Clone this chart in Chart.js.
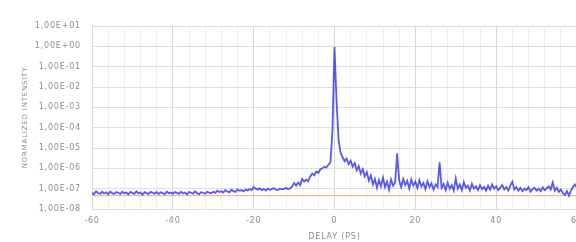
<!DOCTYPE html>
<html>
<head>
<meta charset="utf-8">
<script src="https://cdn.jsdelivr.net/npm/chart.js@4/dist/chart.umd.min.js"></script>
<style>
html,body{margin:0;padding:0;background:#fff;overflow:hidden;}
#wrap{width:610px;height:242px;position:relative;}
</style>
</head>
<body>
<div id="wrap"><canvas id="c"></canvas></div>
<script>
const delays = [
-60,-59.5,-59,-58.5,-58,-57.5,-57,-56.5,-56,-55.5,-55,-54.5,-54,-53.5,-53,-52.5,-52,-51.5,-51,-50.5,
-50,-49.5,-49,-48.5,-48,-47.5,-47,-46.5,-46,-45.5,-45,-44.5,-44,-43.5,-43,-42.5,-42,-41.5,-41,-40.5,
-40,-39.5,-39,-38.5,-38,-37.5,-37,-36.5,-36,-35.5,-35,-34.5,-34,-33.5,-33,-32.5,-32,-31.5,-31,-30.5,
-30,-29.5,-29,-28.5,-28,-27.5,-27,-26.5,-26,-25.5,-25,-24.5,-24,-23.5,-23,-22.5,-22,-21.5,-21,-20.5,
-20,-19.5,-19,-18.5,-18,-17.5,-17,-16.5,-16,-15.5,-15,-14.5,-14,-13.5,-13,-12.5,-12,-11.5,-11,-10.5,
-10,-9.5,-9,-8.5,-8,-7.5,-7,-6.5,-6,-5.5,-5,-4.5,-4,-3.5,-3,-2.5,-2,-1.5,
-1,-0.5,0,0.5,1,1.5,2,
2.5,3,3.5,4,4.5,5,5.5,6,6.5,7,7.5,8,8.5,9,9.5,10,
10.5,11,11.5,12,12.5,13,13.5,14,14.5,15,15.5,16,16.5,17,17.5,18,18.5,19,19.5,20,
20.5,21,21.5,22,22.5,23,23.5,24,24.5,25,25.5,26,26.5,27,27.5,28,28.5,29,29.5,30,
30.5,31,31.5,32,32.5,33,33.5,34,34.5,35,35.5,36,36.5,37,37.5,38,38.5,39,39.5,40,
40.5,41,41.5,42,42.5,43,43.5,44,44.5,45,
45.5,46,46.5,47,47.5,48,48.5,49,49.5,50,50.5,51,51.5,52,52.5,53,53.5,54,54.5,55,
55.5,56,56.5,57,57.5,58,58.5,59,59.5,60
];
const intensity = [
6.5e-8,5.2e-8,7.4e-8,6.1e-8,5.6e-8,7e-8,5.8e-8,6.6e-8,5.3e-8,7.2e-8,
6e-8,5.5e-8,6.8e-8,6.3e-8,5.4e-8,7.1e-8,5.9e-8,6.4e-8,5.2e-8,6.9e-8,
6.2e-8,5.6e-8,7.3e-8,5.8e-8,6.5e-8,5.1e-8,6.7e-8,6e-8,5.5e-8,7e-8,
6.3e-8,5.7e-8,6.9e-8,5.4e-8,6.6e-8,6.1e-8,5.3e-8,7.2e-8,5.9e-8,6.4e-8,
5.6e-8,6.8e-8,6.2e-8,5.5e-8,7.1e-8,5.8e-8,6.5e-8,5.2e-8,6.9e-8,6.3e-8,
5.7e-8,7.4e-8,6e-8,5.4e-8,6.7e-8,6.2e-8,5.6e-8,7e-8,6.4e-8,5.9e-8,
7e-8,6.2e-8,8e-8,6.8e-8,7.5e-8,6.4e-8,8.4e-8,7.2e-8,6.6e-8,8.8e-8,
7.6e-8,7e-8,9.2e-8,7.8e-8,8.5e-8,7.4e-8,9e-8,8.2e-8,9.6e-8,8.6e-8,
1.2e-7,1e-7,9e-8,1.05e-7,8.5e-8,9.5e-8,8e-8,1e-7,8.8e-8,9.4e-8,
1.08e-7,9e-8,8.6e-8,1e-7,9.2e-8,9.8e-8,1.1e-7,9.4e-8,1.05e-7,1.25e-7,
1.9e-7,1.4e-7,2e-7,1.5e-7,3e-7,2.2e-7,2.8e-7,2.3e-7,4e-7,5.5e-7,
4.5e-7,7e-7,6e-7,9e-7,1e-6,1.2e-6,1.1e-6,1.5e-6,
2e-6,8e-5,0.93,2.3e-3,2.5e-5,6e-6,3.5e-6,
2.2e-6,3e-6,1.6e-6,2.4e-6,1.2e-6,1.8e-6,8e-7,1.3e-6,5.5e-7,9e-7,4e-7,6.5e-7,2.5e-7,4.5e-7,1.6e-7,3e-7,
1.1e-7,2.6e-7,1.3e-7,3.5e-7,1.2e-7,2.2e-7,9e-8,2.8e-7,1.4e-7,2e-7,
5.5e-6,2.5e-7,1.2e-7,3e-7,1.5e-7,2.4e-7,1e-7,2.8e-7,1.4e-7,2.2e-7,
1.1e-7,2.6e-7,1.3e-7,1.9e-7,9.5e-8,2.3e-7,1.2e-7,1.8e-7,9e-8,1.6e-7,
1.2e-7,2e-6,1.1e-7,1.7e-7,8.5e-8,2e-7,1e-7,1.5e-7,8e-8,3.2e-7,
1e-7,1.6e-7,8.5e-8,2.1e-7,1.1e-7,1.4e-7,8e-8,1.7e-7,1e-7,1.3e-7,
8.5e-8,1.5e-7,9.5e-8,1.2e-7,8e-8,1.4e-7,9e-8,1.6e-7,1e-7,1.3e-7,
8.5e-8,1.1e-7,1.5e-7,9e-8,1.2e-7,8e-8,1.4e-7,2.2e-7,9e-8,1.2e-7,
8e-8,1.1e-7,7.5e-8,1e-7,8.5e-8,1.2e-7,7e-8,9.5e-8,1.1e-7,8e-8,
1e-7,7.5e-8,1.15e-7,8.5e-8,1.05e-7,1.3e-7,9e-8,2e-7,8e-8,1.1e-7,
7e-8,9e-8,6e-8,5e-8,7.5e-8,4.5e-8,8e-8,1.2e-7,1.6e-7,1.1e-7
];
const floorDelays = [-60, 60];
const floorLevel = [4.5e-8, 4.5e-8];
const yTickValues = [1e-8,1e-7,1e-6,1e-5,1e-4,1e-3,1e-2,1e-1,1e0,1e1];
const yTickLabels = ['1,00E-08','1,00E-07','1,00E-06','1,00E-05','1,00E-04','1,00E-03','1,00E-02','1,00E-01','1,00E+00','1,00E+01'];
const xLabelTicks = [-60,-40,-20,0,20,40,60];
const xTitle = 'DELAY (PS)';
const yTitle = 'NORMALIZED INTENSITY';

const mainData = delays.map((d,i)=>({x:d,y:intensity[i]}));
const floorData = floorDelays.map((d,i)=>({x:d,y:floorLevel[i]}));
const FAM = '"DejaVu Sans", Verdana, sans-serif';
const TICKFONT = {family:FAM, size:8};
const TITLEFONT = {family:FAM, size:7};
const TXT = '#8c8c8c';

const spacing = {
  id:'spacing',
  beforeLayout(chart){ chart.ctx.letterSpacing='0.8px'; },
  beforeDraw(chart){ chart.ctx.letterSpacing='0.8px'; }
};

new Chart(document.getElementById('c'), {
  type:'line',
  data:{datasets:[
    {data:mainData,borderColor:'rgba(60,60,235,0.85)',borderWidth:1.8,pointRadius:0,tension:0,order:1},
    {data:floorData,borderColor:'#f6b98c',borderWidth:1.2,pointRadius:0,tension:0,order:2}
  ]},
  plugins:[spacing],
  options:{
    responsive:true,maintainAspectRatio:false,animation:false,
    layout:{padding:{left:21,right:33,top:26,bottom:0}},
    plugins:{legend:{display:false},tooltip:{enabled:false}},
    scales:{
      x:{type:'linear',min:-60,max:60,
        afterBuildTicks:(s)=>{const t=[];for(let v=-60;v<=60;v+=4)t.push({value:v});s.ticks=t;},
        ticks:{autoSkip:false,maxRotation:0,padding:7,color:TXT,font:TICKFONT,
          callback:(v)=>xLabelTicks.includes(v)?String(v):''},
        grid:{drawTicks:false,color:(c)=>xLabelTicks.includes(c.tick.value)?'#d6d6d6':'#efefef'},
        border:{display:false},
        title:{display:true,text:xTitle,color:TXT,font:TICKFONT,padding:{top:4,bottom:0}},
        afterFit:(s)=>{s.height=33;}
      },
      y:{type:'logarithmic',min:1e-8,max:1e1,
        afterBuildTicks:(s)=>{s.ticks=yTickValues.map(v=>({value:v}));},
        ticks:{autoSkip:false,padding:11,color:TXT,font:TICKFONT,
          callback:(v)=>{const i=yTickValues.indexOf(v);return i>=0?yTickLabels[i]:'';}},
        grid:{drawTicks:false,color:'#dedede'},
        border:{display:false},
        title:{display:true,text:yTitle,color:TXT,font:TITLEFONT,padding:{top:0,bottom:0}},
        afterFit:(s)=>{s.width=71;}
      }
    }
  }
});
</script>
</body>
</html>
